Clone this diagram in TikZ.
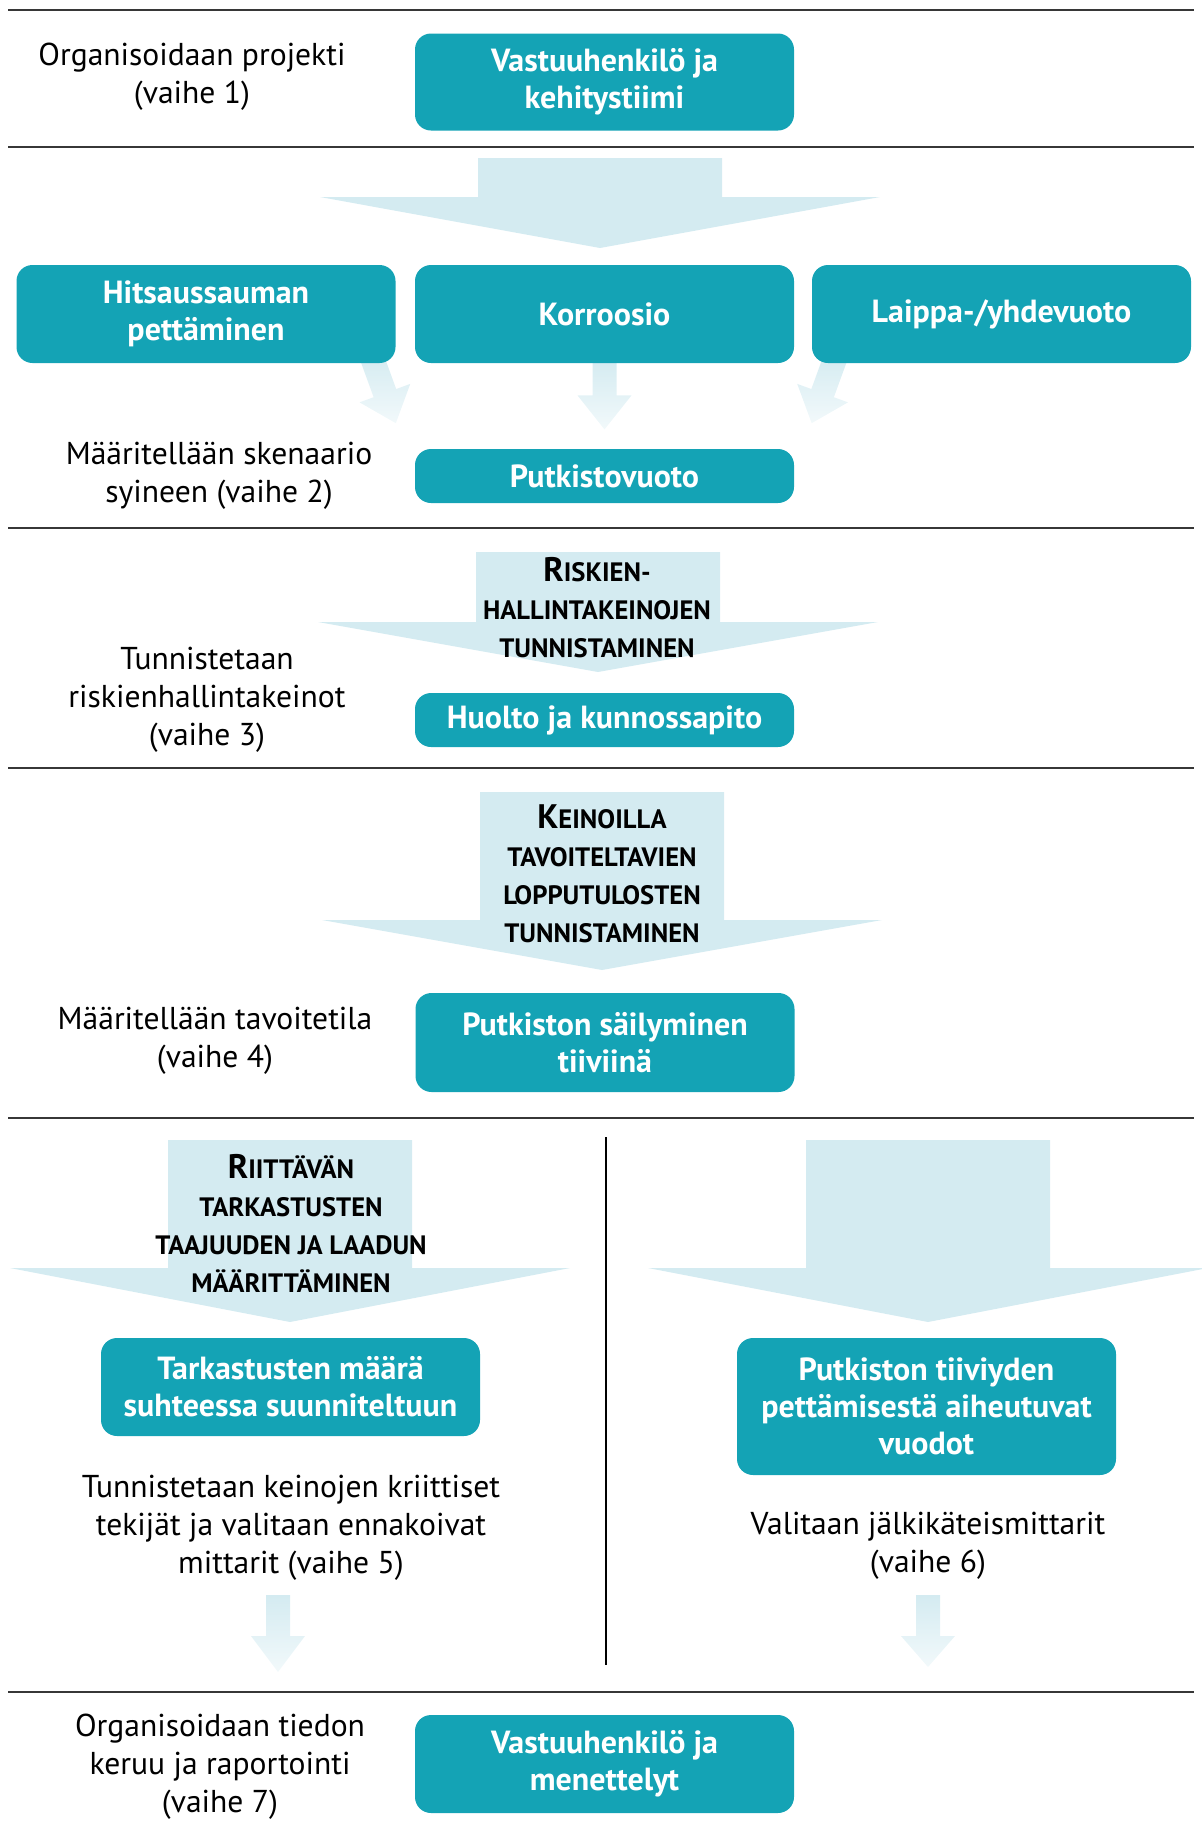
\documentclass[tikz,border=0pt]{standalone}
\usepackage{fontspec}
\setmainfont{PT Sans}
\usetikzlibrary{positioning, calc, backgrounds}
\usepackage{xcolor}

\definecolor{boxteal}{RGB}{20,163,181}
\definecolor{arrowblue}{RGB}{212,235,241}
\definecolor{rulegrey}{RGB}{55,55,55}

\newcommand{\capinit}[1]{{\fontsize{17}{19}\selectfont #1}}
% big block arrow: centre x, top, head base, tip
\newcommand{\bigdown}[4]{%
  \fill[arrowblue] ({#1-122},#2) -- ({#1+122},#2) -- ({#1+122},#3) -- ({#1+280},#3)
    -- (#1,#4) -- ({#1-280},#3) -- ({#1-122},#3) -- cycle;}
% small block arrow: start, angle, head base, tip
\newcommand{\smallarrow}[4]{%
  \begin{scope}[shift={#1}, rotate=#2]
    \shade[top color=arrowblue, bottom color=arrowblue!30] (-12,0) -- (12,0) -- (12,#3)
      -- (27,#3) -- (0,#4) -- (-27,#3) -- (-12,#3) -- cycle;
  \end{scope}}

\tikzset{
  box/.style={fill=boxteal, rounded corners=8pt, text=white, inner sep=0pt,
    minimum width=189.5pt, align=center,
    font=\bfseries\fontsize{16}{18.5}\selectfont},
  note/.style={align=center, font=\fontsize{15.8}{19}\selectfont},
  capstext/.style={align=center, font=\bfseries\fontsize{13.3}{19}\selectfont},
  rule/.style={draw=rulegrey, line width=1.25pt}
}

\begin{document}
\begin{tikzpicture}[x=0.5pt, y=-0.5pt]
		\useasboundingbox (0,0) rectangle (1202,1827);
		
		% separators
		\draw[rule] (8,10) -- (1194,10);
		\draw[rule] (8,147) -- (1194,147);
		\draw[rule] (8,528) -- (1194,528);
		\draw[rule] (8,768) -- (1194,768);
		\draw[rule] (8,1118) -- (1194,1118);
		\draw[rule] (8,1692) -- (1194,1692);
		\draw[line width=0.7pt] (606,1137) -- (606,1665);
		
		% big arrows
		\bigdown{600}{158}{197}{248}
		\bigdown{598}{552}{622}{672}
		\bigdown{602}{792}{920}{970}
		\bigdown{290}{1140}{1268}{1322}
		\bigdown{928}{1140}{1268}{1322}
		
		\draw (604.5,82) node[box, minimum height=48.5pt] (b1) {Vastuuhenkilö ja\\kehitystiimi}
		(206,314) node[box, minimum height=49pt] (hA) {Hitsaussauman\\pettäminen}
		(604.5,314) node[box, minimum height=49pt] (hB) {Korroosio}
		(1001.5,314) node[box, minimum height=49pt] (hC) {Laippa-/yhdevuoto}
		(604.5,476) node[box, minimum height=27pt] (pv) {Putkistovuoto}
		(604.5,720) node[box, minimum height=27pt] (hk) {Huolto ja kunnossapito}
		(605,1042.5) node[box, minimum height=49.5pt] (st) {Putkiston säilyminen\\tiiviinä}
		(290.5,1387) node[box, minimum height=49pt] (tm) {Tarkastusten määrä\\suhteessa suunniteltuun}
		(926.5,1406.5) node[box, minimum height=68.5pt] (tv) {Putkiston tiiviyden\\pettämisestä aiheutuvat\\vuodot}
		(604.5,1764) node[box, minimum height=49pt] (vm) {Vastuuhenkilö ja\\menettelyt};
		
		% phase notes
		\draw (192,77) node[note] (n1) {Organisoidaan projekti\\(vaihe 1)}
		(219,476) node[note] (n2) {Määritellään skenaario\\syineen (vaihe 2)}
		(207,700) node[note] (n3) {Tunnistetaan\\riskienhallintakeinot\\(vaihe 3)}
		(215,1041) node[note] (n4) {Määritellään tavoitetila\\(vaihe 4)}
		(291,1528) node[note] (n5) {Tunnistetaan keinojen kriittiset\\tekijät ja valitaan ennakoivat\\mittarit (vaihe 5)}
		(928,1546) node[note] (n6) {Valitaan jälkikäteismittarit\\(vaihe 6)}
		(220,1767) node[note] (n7) {Organisoidaan tiedon\\keruu ja raportointi\\(vaihe 7)};
		
		% texts on arrows
		\draw (597,608) node[capstext] (a2) {\capinit{R}ISKIEN-\\HALLINTAKEINOJEN\\TUNNISTAMINEN}
		(602,874) node[capstext] (a3) {\capinit{K}EINOILLA\\TAVOITELTAVIEN\\LOPPUTULOSTEN\\TUNNISTAMINEN}
		(291,1223) node[capstext] (a4) {\capinit{R}IITTÄVÄN\\TARKASTUSTEN\\TAAJUUDEN JA LAADUN\\MÄÄRITTÄMINEN};
		
		% small arrows
		\coordinate (s5) at (278,1595);
		\coordinate (s6) at (928,1595);
		\begin{pgfonlayer}{background}
		\smallarrow{($(hA.south east)+(-24,-6)$)}{20}{38}{70}
		\smallarrow{($(hB.south)+(0,-4)$)}{0}{36}{70}
		\smallarrow{($(hC.south west)+(24,-6)$)}{-20}{38}{70}
		\smallarrow{(s5)}{0}{41}{77}
		\smallarrow{(s6)}{0}{41}{72}
		\end{pgfonlayer}
	\end{tikzpicture}
\end{document}
